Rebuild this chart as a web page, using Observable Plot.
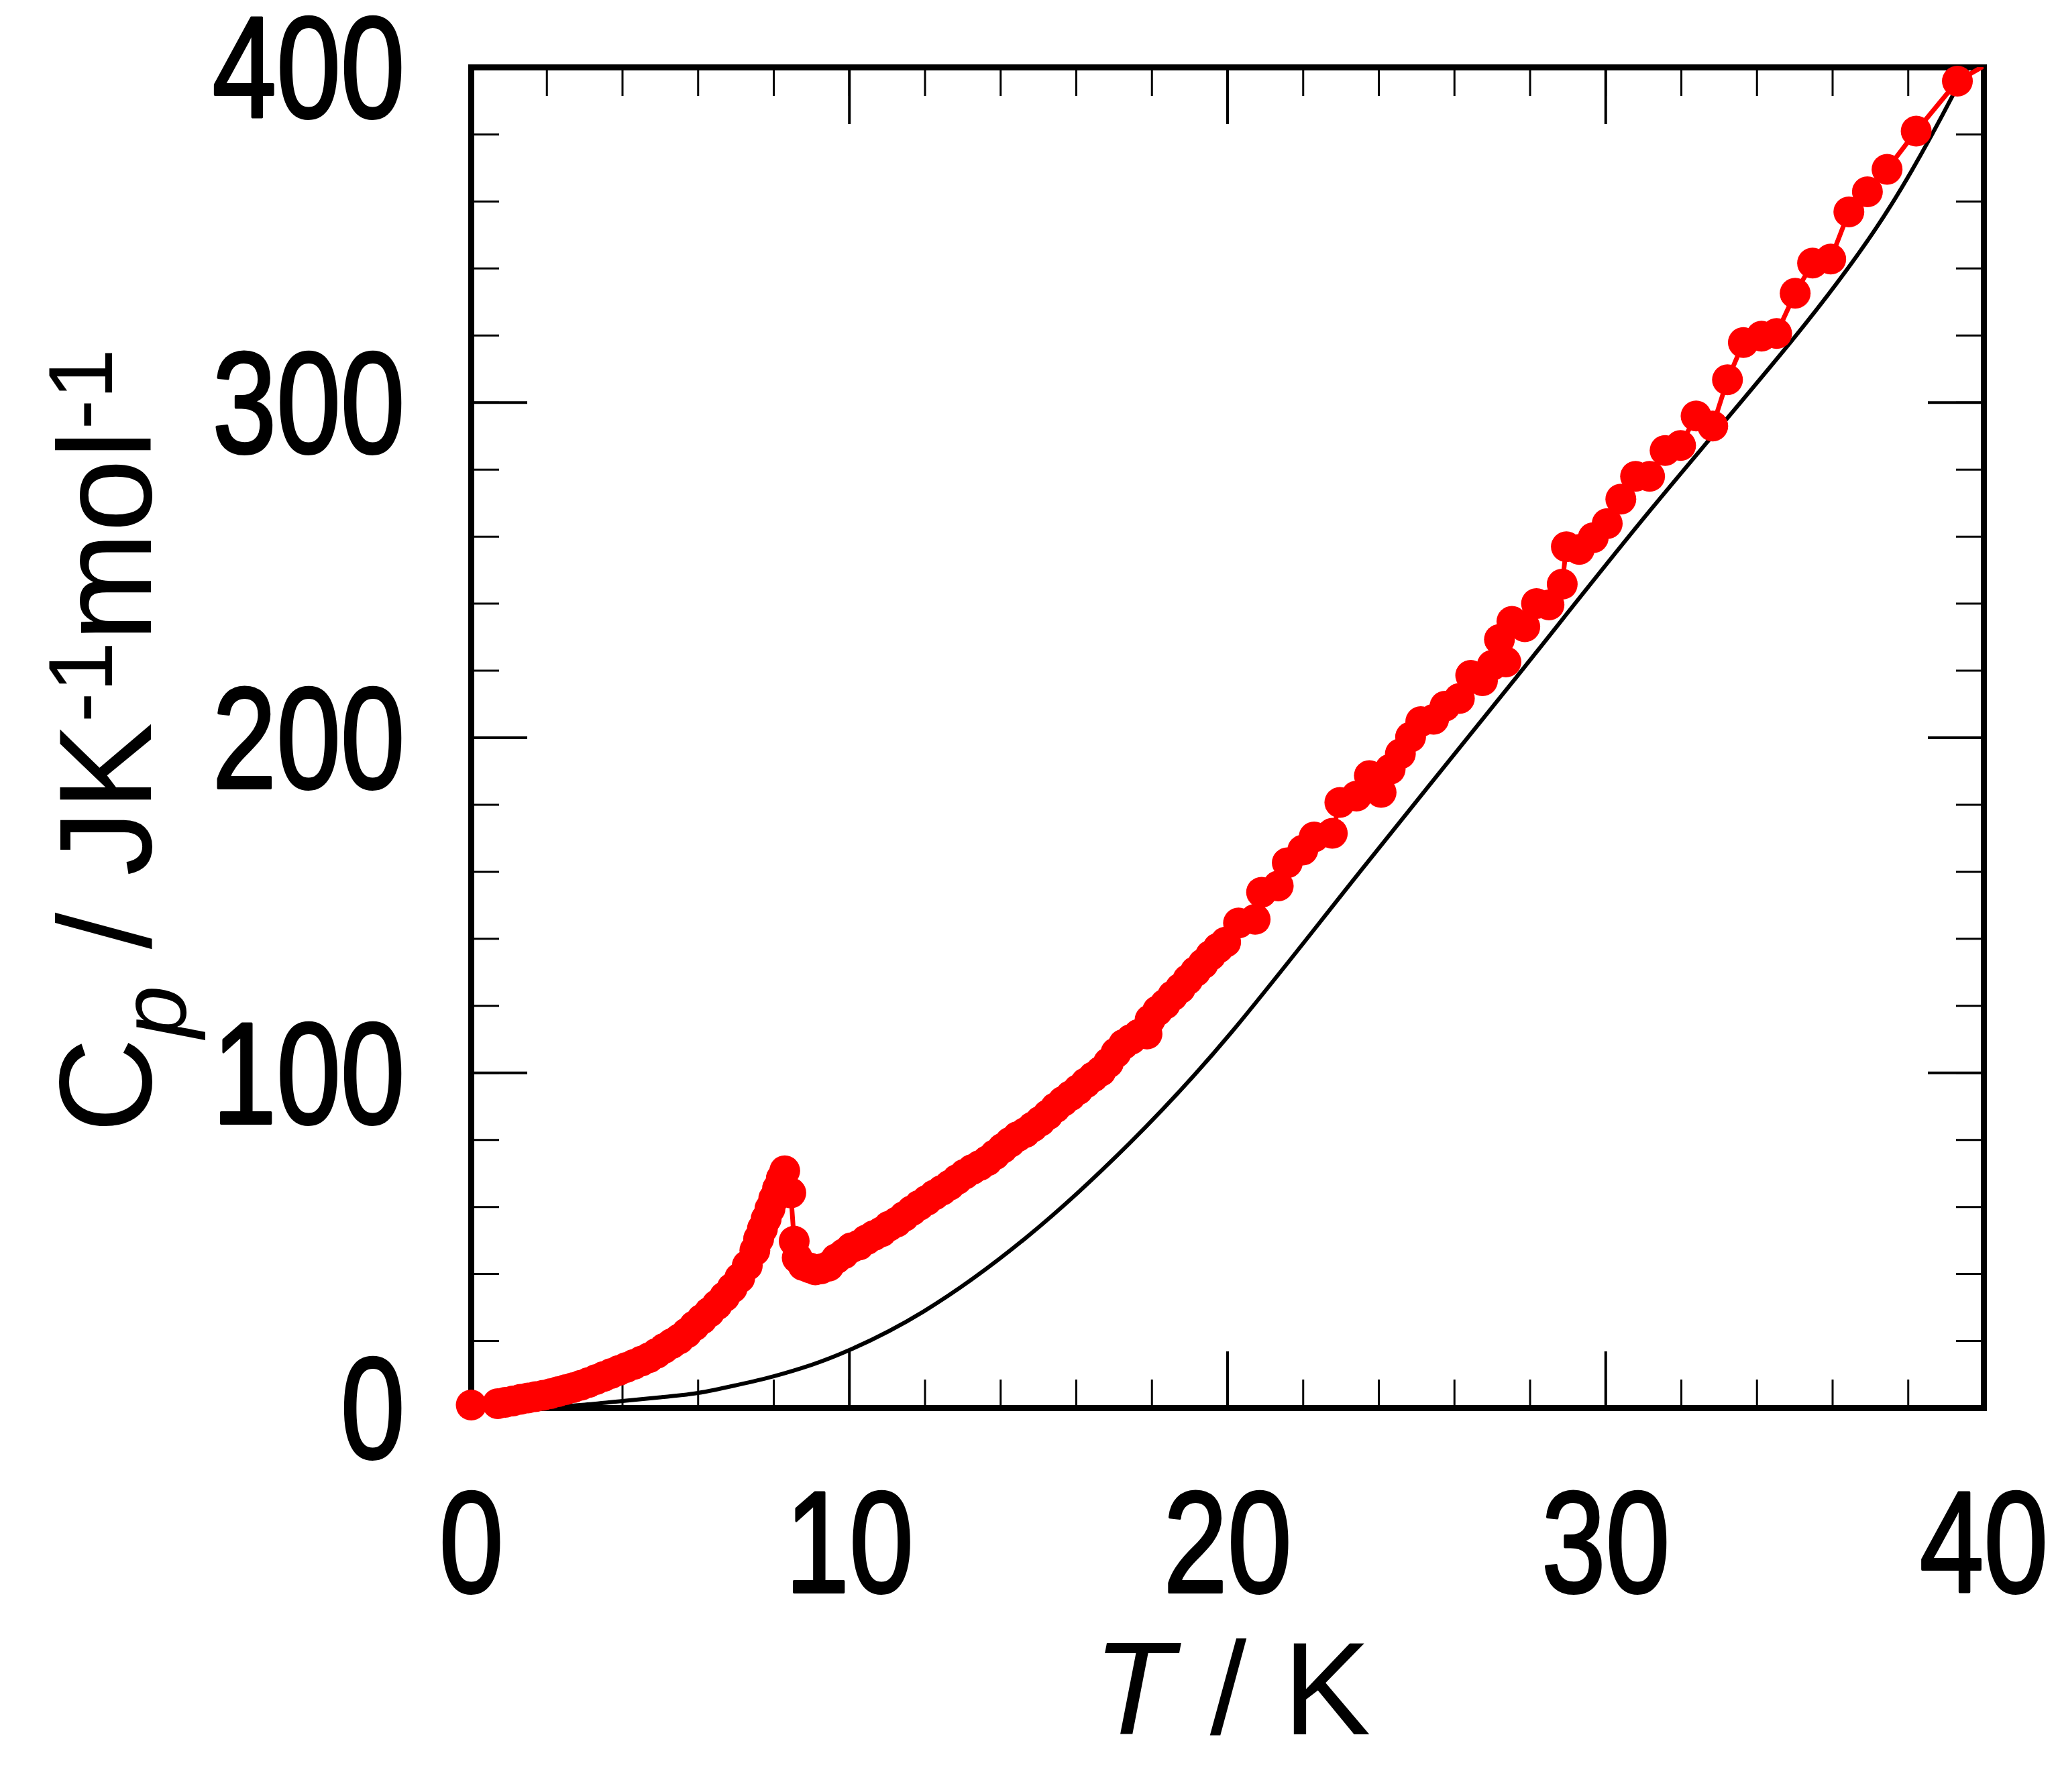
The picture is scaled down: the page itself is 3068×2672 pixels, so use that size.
<!DOCTYPE html>
<html>
<head>
<meta charset="utf-8">
<script src="https://cdn.jsdelivr.net/npm/d3@7"></script>
<script src="https://cdn.jsdelivr.net/npm/@observablehq/plot@0.6"></script>
<style>
  html, body { margin: 0; padding: 0; background: #ffffff; }
  #chart svg { display: block; }
</style>
</head>
<body>
<div id="chart"></div>
<script>
// ---- measured heat capacity (red points), T in K, Cp in J K-1 mol-1 ----
const redT = [
  0.0, 0.7, 0.9, 1.1, 1.3, 1.5, 1.7, 1.9, 2.1, 2.3, 2.5, 2.7, 2.9, 3.1, 3.3, 3.5, 3.7, 3.9,
  4.1, 4.3, 4.5, 4.7, 4.9, 5.1, 5.3, 5.5, 5.7, 5.9, 6.1, 6.3, 6.5, 6.7, 6.9, 7.1, 7.3, 7.5,
  7.6, 7.7, 7.8, 7.9, 8.0, 8.1, 8.2, 8.29, 8.45, 8.54, 8.62, 8.78, 8.95, 9.1, 9.25, 9.45,
  9.65, 9.85, 10.05, 10.25, 10.45, 10.65, 10.85, 11.05, 11.25, 11.45, 11.65, 11.85, 12.05,
  12.25, 12.45, 12.65, 12.85, 13.05, 13.25, 13.45, 13.65, 13.85, 14.05, 14.25, 14.45, 14.65,
  14.85, 15.05, 15.25, 15.45, 15.65, 15.85, 16.05, 16.25, 16.45, 16.65, 16.85, 17.05, 17.25,
  17.45, 17.65, 17.87, 17.95, 18.15, 18.35, 18.55, 18.75, 18.95, 19.15, 19.35, 19.55, 19.75,
  19.95, 20.29, 20.73, 20.9, 21.34, 21.58, 21.99, 22.29, 22.77, 22.97, 23.41, 23.75, 24.06,
  24.3, 24.57, 24.84, 25.11, 25.45, 25.75, 26.13, 26.43, 26.74, 27.0, 27.19, 27.36, 27.52,
  27.86, 28.17, 28.5, 28.85, 28.96, 29.3, 29.67, 30.04, 30.4, 30.79, 31.16, 31.57, 31.98,
  32.39, 32.83, 33.22, 33.64, 34.12, 34.52, 35.01, 35.47, 35.95, 36.43, 36.92, 37.44, 38.21,
  39.3, 40.4
];
const redCp = [
  0.9, 1.3, 1.7, 2.1, 2.6, 3.0, 3.4, 3.8, 4.3, 4.9, 5.5, 6.1, 6.8, 7.6, 8.5, 9.4, 10.3, 11.2,
  12.1, 13.0, 14.0, 15.0, 16.3, 17.8, 19.2, 20.6, 22.4, 24.5, 26.5, 28.6, 30.8, 33.2, 35.8, 38.8, 42.5, 47.0,
  50.5, 53.5, 56.5, 59.5, 62.5, 65.5, 68.5, 70.8, 64.2, 49.8, 44.8, 42.5, 41.8, 41.2, 41.5, 42.3,
  44.5, 46.0, 47.8, 48.6, 50.2, 51.5, 52.6, 54.3, 55.5, 57.2, 58.9, 60.5, 62.0,
  63.6, 65.0, 66.5, 68.2, 69.8, 71.2, 72.4, 73.8, 75.6, 77.5, 79.3, 81.0, 82.2,
  83.9, 85.6, 87.5, 89.6, 91.5, 93.2, 95.0, 97.0, 98.8, 100.5, 103.0, 106.0, 108.5,
  110.0, 111.5, 111.6, 115.8, 118.5, 120.5, 123.0, 125.2, 127.8, 130.2, 132.5, 135.0, 137.2,
  139.0, 144.7, 145.8, 153.9, 155.8, 162.7, 166.5, 170.4, 171.5, 180.7, 182.6, 188.7, 183.7,
  190.6, 195.2, 200.2, 204.8, 205.5, 209.4, 211.7, 218.6, 217.0, 221.6, 229.3, 222.6, 234.7,
  233.1, 240.0, 239.6, 245.8, 257.0, 256.2, 259.7, 263.9, 271.2, 278.0, 278.0, 285.7, 287.2,
  296.0, 293.0, 306.8, 317.9, 319.8, 320.6, 332.6, 341.6, 342.8, 356.9, 362.9, 369.6, 381.0,
  395.9, 403.0
];

// ---- lattice contribution (black curve) ----
const calcT = [
  0, 1, 2, 3, 4, 5, 6, 7, 8, 9, 10, 11.96, 14.68, 17.4, 20.11, 23.55, 27.62, 31.18,
  34.93, 37.55, 39.19, 39.6
];
const calcCp = [
  0, 0.05, 0.3, 1.0, 2.1, 3.2, 4.5, 6.8, 9.5, 12.9, 17.3, 28.8, 50.9, 78.9, 112.2, 160.7, 217.8, 267.9,
  318.6, 359.0, 391.9, 401.0
];

// ---- axes ----
const xDomain = [0, 40];
const yDomain = [0, 400];
const xMajorTicks = [0, 10, 20, 30, 40];
const xMinorTicks = [0, 2, 4, 6, 8, 10, 12, 14, 16, 18, 20, 22, 24, 26, 28, 30, 32, 34, 36, 38, 40];
const yMajorTicks = [0, 100, 200, 300, 400];
const yMinorTicks = [0, 20, 40, 60, 80, 100, 120, 140, 160, 180, 200, 220, 240, 260, 280, 300, 320, 340, 360, 380, 400];
const xTitleParts = ["T", " / K"];
const yTitleParts = ["C", "p", " / JK", "-1", "mol", "-1"];

const red = redT.map((T, i) => ({T, Cp: redCp[i]}));
const calc = calcT.map((T, i) => ({T, Cp: calcCp[i]}));

const W = 3068, H = 2672;
const mL = 702, mR = 111, mT = 100, mB = 573;
const tickFont = "'Liberation Sans', Arial, sans-serif";
const titleFont = "'Liberation Sans', Arial, sans-serif";
const RED = "#ff0000";
const CONDENSE = 0.8; // narrow digits as in the reference

const chart = Plot.plot({
  width: W, height: H,
  marginLeft: mL, marginRight: mR, marginTop: mT, marginBottom: mB,
  x: {domain: xDomain, label: null},
  y: {domain: yDomain, label: null},
  style: {background: "#ffffff", color: "#000000"},
  marks: [
    // inward minor and major ticks on all four sides
    Plot.axisX(xMinorTicks, {anchor: "bottom", tickSize: -42, strokeWidth: 3, fill: "none", label: null}),
    Plot.axisX(xMajorTicks, {anchor: "bottom", tickSize: -84, strokeWidth: 4, fill: "none", label: null}),
    Plot.axisX(xMinorTicks, {anchor: "top", tickSize: -42, strokeWidth: 3, fill: "none", label: null}),
    Plot.axisX(xMajorTicks, {anchor: "top", tickSize: -84, strokeWidth: 4, fill: "none", label: null}),
    Plot.axisY(yMinorTicks, {anchor: "left", tickSize: -42, strokeWidth: 3, fill: "none", label: null}),
    Plot.axisY(yMajorTicks, {anchor: "left", tickSize: -84, strokeWidth: 4, fill: "none", label: null}),
    Plot.axisY(yMinorTicks, {anchor: "right", tickSize: -42, strokeWidth: 3, fill: "none", label: null}),
    Plot.axisY(yMajorTicks, {anchor: "right", tickSize: -84, strokeWidth: 4, fill: "none", label: null}),
    // tick labels
    Plot.axisX(xMajorTicks, {anchor: "bottom", tickSize: 0, tickPadding: 122, fontSize: 215, fontFamily: tickFont, fill: "#000000", label: null}),
    Plot.axisY(yMajorTicks, {anchor: "left", tickSize: 0, tickPadding: 99, fontSize: 215, fontFamily: tickFont, fill: "#000000", dy: 6, label: null}),
    Plot.frame({stroke: "#000000", strokeWidth: 9}),
    // data
    Plot.line(calc, {x: "T", y: "Cp", stroke: "#000000", strokeWidth: 6, curve: "natural", clip: true}),
    Plot.line(red, {x: "T", y: "Cp", stroke: RED, strokeWidth: 7, clip: true}),
    Plot.dot(red, {x: "T", y: "Cp", r: 23, fill: RED, stroke: "none",
      filter: d => d.T >= xDomain[0] - 1 && d.T <= xDomain[1] && d.Cp <= yDomain[1]})
  ]
});

document.getElementById("chart").appendChild(chart);

const svg = d3.select(chart);

// condense (and slightly embolden) the tick-label glyphs, keeping their anchor points
svg.selectAll('[aria-label="x-axis tick label"] text, [aria-label="y-axis tick label"] text').each(function () {
  const w = this.getComputedTextLength();
  if (w > 0) {
    this.setAttribute("textLength", (w * CONDENSE).toFixed(1));
    this.setAttribute("lengthAdjust", "spacingAndGlyphs");
  }
  this.setAttribute("stroke", "#000000");
  this.setAttribute("stroke-width", "4");
  this.setAttribute("stroke-linejoin", "round");
});

// ---- axis titles (real text, with italic / sub / superscripts) ----
const xs = chart.scale("x"), ys = chart.scale("y");
const xCenter = (xs.range[0] + xs.range[1]) / 2;
const yCenter = (ys.range[0] + ys.range[1]) / 2;
const plotBottom = ys.range[0];

const xt = svg.append("text")
  .attr("x", xCenter + 7)
  .attr("y", plotBottom + 487)
  .attr("text-anchor", "middle")
  .attr("font-family", titleFont)
  .attr("font-size", 196)
  .attr("fill", "#000000");
xt.append("tspan").attr("font-style", "italic").text(xTitleParts[0]);
xt.append("tspan").text(xTitleParts[1]);

const yt = svg.append("text")
  .attr("transform", `translate(225, ${yCenter + 5}) rotate(-90)`)
  .attr("text-anchor", "middle")
  .attr("font-family", titleFont)
  .attr("font-size", 196)
  .attr("fill", "#000000");
yt.append("tspan").text(yTitleParts[0]);
yt.append("tspan").attr("font-style", "italic").attr("font-size", 140).attr("dy", 52).text(yTitleParts[1]);
yt.append("tspan").attr("dy", -52).text(yTitleParts[2]);
yt.append("tspan").attr("font-size", 136).attr("dy", -58).text(yTitleParts[3]);
yt.append("tspan").attr("dy", 58).text(yTitleParts[4]);
yt.append("tspan").attr("font-size", 136).attr("dy", -58).text(yTitleParts[5]);
</script>
</body>
</html>
